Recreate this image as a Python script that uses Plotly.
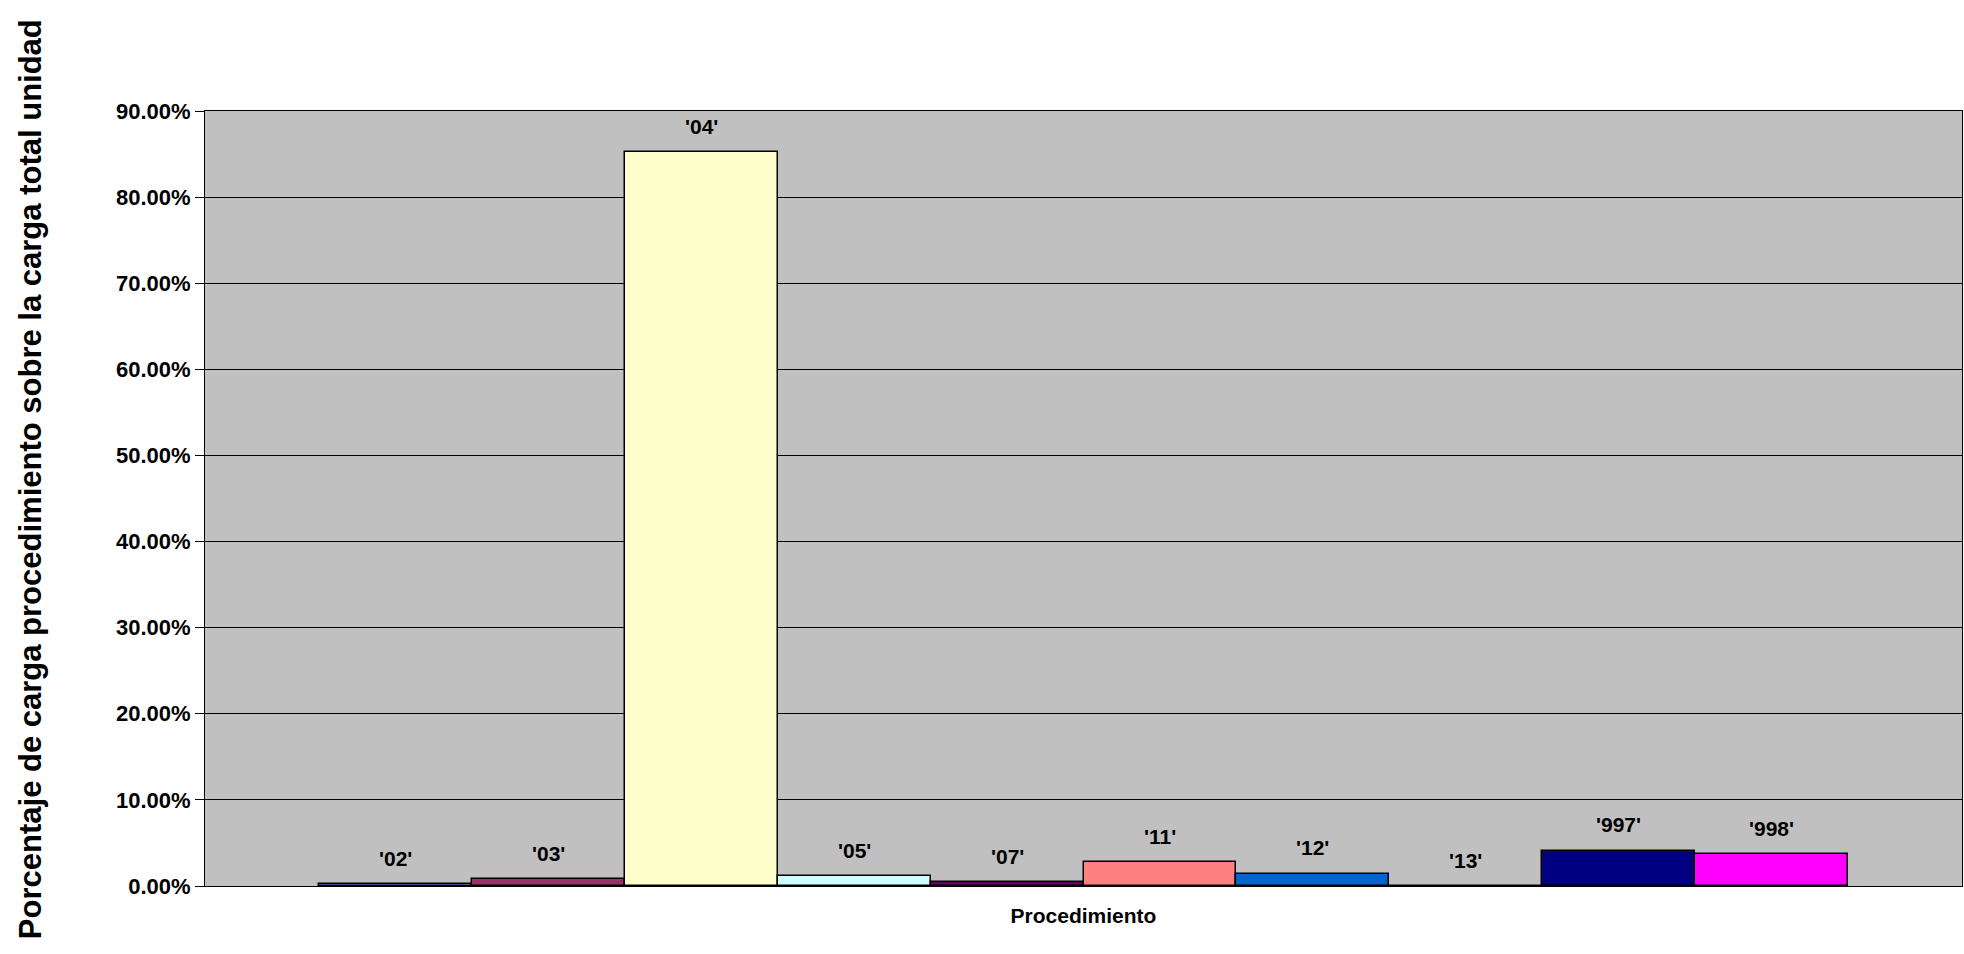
import plotly.graph_objects as go

# Porcentaje de carga de cada procedimiento sobre la carga total de la unidad
procedimientos = ["'02'", "'03'", "'04'", "'05'", "'07'", "'11'", "'12'", "'13'", "'997'", "'998'"]
porcentajes = [0.2, 0.8, 85.2, 1.12, 0.46, 2.75, 1.4, 0.0, 4.1, 3.67]
colores = ['#9999FF', '#993366', '#FFFFCC', '#CCFFFF', '#660066',
           '#FF8080', '#0066CC', '#CCCCFF', '#000080', '#FF00FF']

y_ticks = [0, 10, 20, 30, 40, 50, 60, 70, 80, 90]

fuente = 'Liberation Sans, Arial, sans-serif'

fig = go.Figure()
fig.add_trace(go.Bar(x=procedimientos,
                     y=porcentajes,
                     marker=dict(color=colores, line=dict(color='black', width=1.5)),
                     showlegend=False,
                     hoverinfo='x+y'))

# etiquetas con el nombre de la serie encima de cada barra
for p, v in zip(procedimientos, porcentajes):
    fig.add_annotation(x=p, y=v, text=p, showarrow=False,
                       yanchor='middle', yshift=26,
                       font=dict(family=fuente, size=21, color='black', weight='bold'))

# titulo del eje Y (como anotacion para poder colocarlo igual que en Excel)
fig.add_annotation(xref='paper', yref='paper', x=-0.0996, y=0.525,
                   xanchor='center', yanchor='middle', textangle=-90,
                   text='Porcentaje de carga procedimiento sobre la carga total unidad',
                   showarrow=False,
                   font=dict(family=fuente, size=31, color='black', weight='bold'))

fig.update_layout(width=1964, height=954,
                  margin=dict(l=205, r=2, t=111, b=68),
                  paper_bgcolor='white',
                  plot_bgcolor='#C0C0C0',
                  bargap=0,
                  font=dict(family=fuente, color='black'))

fig.update_xaxes(type='category',
                 range=[-1.245, len(procedimientos) - 1 + 1.245],
                 showticklabels=False,
                 ticks='',
                 showline=True, linecolor='black', linewidth=1, mirror=True,
                 showgrid=False, zeroline=False,
                 title=dict(text='Procedimiento', standoff=22,
                            font=dict(family=fuente, size=21, weight='bold')))

fig.update_yaxes(range=[0, 90],
                 tickvals=y_ticks,
                 ticktext=['%.2f%%' % t for t in y_ticks],
                 ticks='outside', ticklen=9, tickcolor='black', tickwidth=1,
                 tickfont=dict(family=fuente, size=22, weight='bold'),
                 showline=True, linecolor='black', linewidth=1, mirror=True,
                 showgrid=True, gridcolor='black', gridwidth=1,
                 zeroline=False)

fig.write_html("out.html",
               config={'displayModeBar': False},
               post_script="document.body.style.margin='0';document.body.style.overflow='hidden';")
